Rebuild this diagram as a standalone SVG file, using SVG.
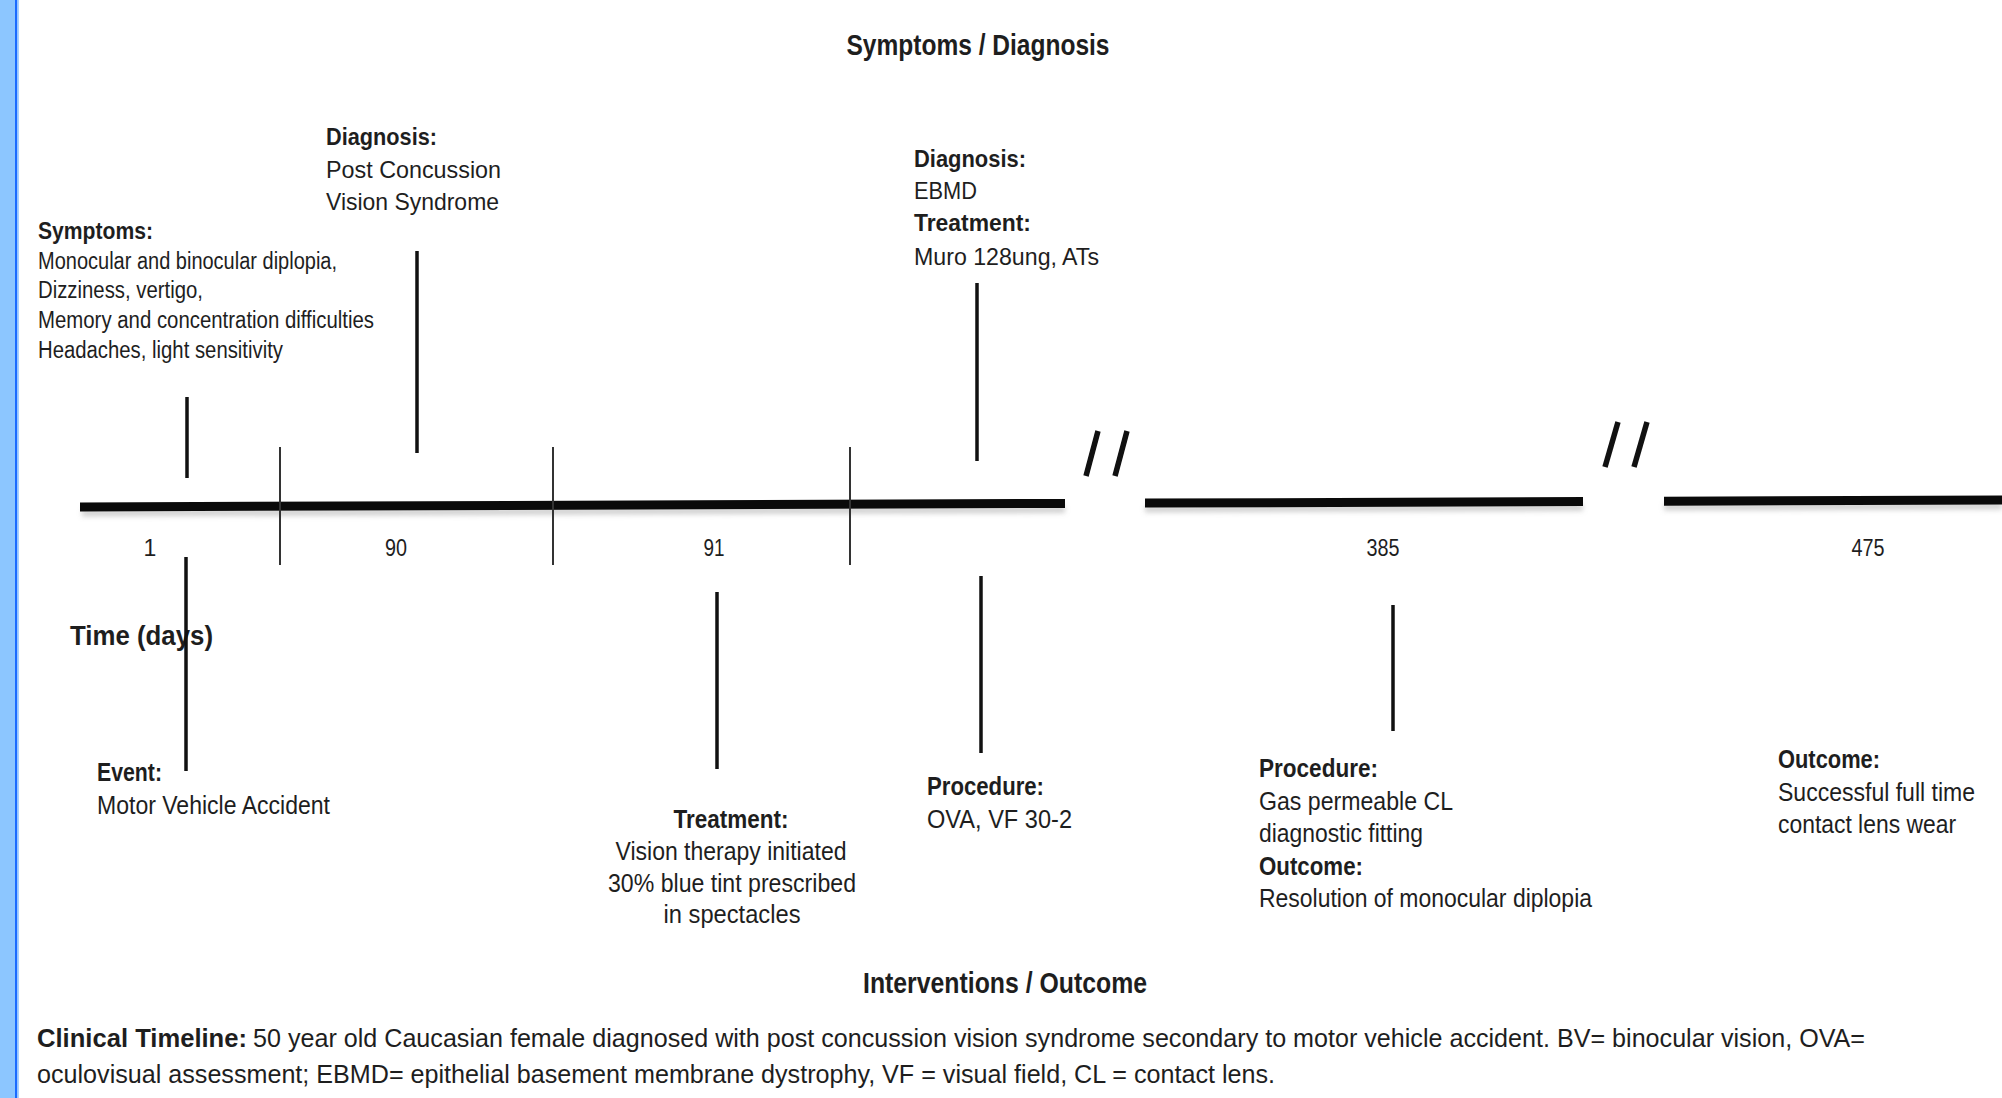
<svg xmlns="http://www.w3.org/2000/svg" width="2002" height="1098" viewBox="0 0 2002 1098">
<style>
  text { font-family: "Liberation Sans", Arial, sans-serif; fill: #1e1e1e; }
  .b { font-weight: bold; }
  .s22 { font-size: 23px; }
  .s23 { font-size: 24px; }
  .s25 { font-size: 26px; }
  .mid { text-anchor: middle; }
  .axis { stroke: #0a0a0a; stroke-width: 9; fill: none; }
  .shadow { stroke: #9a9a9a; stroke-width: 7; fill: none; opacity: 0.45; }
  .tick { stroke: #333; stroke-width: 2; }
  .conn { stroke: #111; stroke-width: 3.5; }
  .brk { stroke: #111; stroke-width: 5.5; }
</style>
<defs>
  <filter id="blur" x="-5%" y="-200%" width="110%" height="500%">
    <feGaussianBlur stdDeviation="2.5"/>
  </filter>
</defs>
<rect x="0" y="0" width="2002" height="1098" fill="#ffffff"/>
<g id="left-band">
  <rect x="0" y="0" width="15" height="1098" fill="#8cc6ff"/>
  <rect x="15" y="0" width="2.5" height="1098" fill="#1a6bff"/>
  <rect x="17.5" y="0" width="1.5" height="1098" fill="#a8d4ff"/>
</g>

<g id="title-top">
  <text class="b mid" x="978" y="55" font-size="30" textLength="263" lengthAdjust="spacingAndGlyphs">Symptoms / Diagnosis</text>
</g>

<g id="timeline-axis">
  <g filter="url(#blur)">
    <line class="shadow" x1="82" y1="513" x2="1065" y2="509.5"/>
    <line class="shadow" x1="1145" y1="509" x2="1583" y2="507.5"/>
    <line class="shadow" x1="1664" y1="507" x2="2002" y2="506"/>
  </g>
  <line class="axis" x1="80" y1="507" x2="1065" y2="503.4"/>
  <line class="axis" x1="1145" y1="503.1" x2="1583" y2="501.5"/>
  <line class="axis" x1="1664" y1="501.2" x2="2002" y2="500"/>
  <line class="tick" x1="280" y1="447" x2="280" y2="565"/>
  <line class="tick" x1="553" y1="447" x2="553" y2="565"/>
  <line class="tick" x1="850" y1="447" x2="850" y2="565"/>
  <line class="brk" x1="1098" y1="431" x2="1086" y2="476"/>
  <line class="brk" x1="1127" y1="431" x2="1115" y2="476"/>
  <line class="brk" x1="1618" y1="422" x2="1605" y2="467"/>
  <line class="brk" x1="1647" y1="422" x2="1634" y2="467"/>
  <text class="s22 mid" x="150" y="556">1</text>
  <text class="s22 mid" x="396" y="556" textLength="22" lengthAdjust="spacingAndGlyphs">90</text>
  <text class="s22 mid" x="714" y="556" textLength="21" lengthAdjust="spacingAndGlyphs">91</text>
  <text class="s22 mid" x="1383" y="556" textLength="33" lengthAdjust="spacingAndGlyphs">385</text>
  <text class="s22 mid" x="1868" y="556" textLength="33" lengthAdjust="spacingAndGlyphs">475</text>
  <text class="b" x="70" y="645" font-size="28" textLength="143" lengthAdjust="spacingAndGlyphs">Time  (days)</text>
</g>

<g id="connectors">
  <line class="conn" x1="187" y1="397" x2="187" y2="478"/>
  <line class="conn" x1="186" y1="557" x2="186" y2="771"/>
  <line class="conn" x1="417" y1="251" x2="417" y2="453"/>
  <line class="conn" x1="977" y1="283" x2="977" y2="461"/>
  <line class="conn" x1="717" y1="592" x2="717" y2="769"/>
  <line class="conn" x1="981" y1="576" x2="981" y2="753"/>
  <line class="conn" x1="1393" y1="605" x2="1393" y2="731"/>
</g>

<g id="node-symptoms">
  <text class="s22 b" x="38" y="239" textLength="115" lengthAdjust="spacingAndGlyphs">Symptoms:</text>
  <text class="s22" x="38" y="269" textLength="299" lengthAdjust="spacingAndGlyphs">Monocular and binocular diplopia,</text>
  <text class="s22" x="38" y="298" textLength="165" lengthAdjust="spacingAndGlyphs">Dizziness, vertigo,</text>
  <text class="s22" x="38" y="328" textLength="336" lengthAdjust="spacingAndGlyphs">Memory and concentration difficulties</text>
  <text class="s22" x="38" y="358" textLength="245" lengthAdjust="spacingAndGlyphs">Headaches, light  sensitivity</text>
</g>

<g id="node-diagnosis-pcvs">
  <text class="s23 b" x="326" y="145" textLength="111" lengthAdjust="spacingAndGlyphs">Diagnosis:</text>
  <text class="s23" x="326" y="178" textLength="175" lengthAdjust="spacingAndGlyphs">Post Concussion</text>
  <text class="s23" x="326" y="210" textLength="173" lengthAdjust="spacingAndGlyphs">Vision Syndrome</text>
</g>

<g id="node-diagnosis-ebmd">
  <text class="s23 b" x="914" y="167" textLength="112" lengthAdjust="spacingAndGlyphs">Diagnosis:</text>
  <text class="s23" x="914" y="199" textLength="63" lengthAdjust="spacingAndGlyphs">EBMD</text>
  <text class="s23 b" x="914" y="231" textLength="117" lengthAdjust="spacingAndGlyphs">Treatment:</text>
  <text class="s23" x="914" y="265" textLength="185" lengthAdjust="spacingAndGlyphs">Muro  128ung, ATs</text>
</g>

<g id="node-event">
  <text class="s25 b" x="97" y="781" textLength="65" lengthAdjust="spacingAndGlyphs">Event:</text>
  <text class="s25" x="97" y="814" textLength="233" lengthAdjust="spacingAndGlyphs">Motor Vehicle Accident</text>
</g>

<g id="node-treatment">
  <text class="s25 b mid" x="731" y="828" textLength="115" lengthAdjust="spacingAndGlyphs">Treatment:</text>
  <text class="s25 mid" x="731" y="860" textLength="231" lengthAdjust="spacingAndGlyphs">Vision therapy initiated</text>
  <text class="s25 mid" x="732" y="892" textLength="248" lengthAdjust="spacingAndGlyphs">30% blue tint prescribed</text>
  <text class="s25 mid" x="732" y="923" textLength="137" lengthAdjust="spacingAndGlyphs">in spectacles</text>
</g>

<g id="node-procedure-ova">
  <text class="s25 b" x="927" y="795" textLength="117" lengthAdjust="spacingAndGlyphs">Procedure:</text>
  <text class="s25" x="927" y="828" textLength="145" lengthAdjust="spacingAndGlyphs">OVA,  VF  30-2</text>
</g>

<g id="node-procedure-gp">
  <text class="s25 b" x="1259" y="777" textLength="119" lengthAdjust="spacingAndGlyphs">Procedure:</text>
  <text class="s25" x="1259" y="810" textLength="194" lengthAdjust="spacingAndGlyphs">Gas permeable CL</text>
  <text class="s25" x="1259" y="842" textLength="164" lengthAdjust="spacingAndGlyphs">diagnostic fitting</text>
  <text class="s25 b" x="1259" y="875" textLength="104" lengthAdjust="spacingAndGlyphs">Outcome:</text>
  <text class="s25" x="1259" y="907" textLength="333" lengthAdjust="spacingAndGlyphs">Resolution of monocular diplopia</text>
</g>

<g id="node-outcome">
  <text class="s25 b" x="1778" y="768" textLength="102" lengthAdjust="spacingAndGlyphs">Outcome:</text>
  <text class="s25" x="1778" y="801" textLength="197" lengthAdjust="spacingAndGlyphs">Successful full time</text>
  <text class="s25" x="1778" y="833" textLength="178" lengthAdjust="spacingAndGlyphs">contact lens wear</text>
</g>

<g id="title-bottom">
  <text class="b mid" x="1005" y="993" font-size="29" textLength="284" lengthAdjust="spacingAndGlyphs">Interventions / Outcome</text>
</g>

<g id="caption">
  <text class="s25 b" x="37" y="1047" textLength="210" lengthAdjust="spacingAndGlyphs">Clinical Timeline:</text>
  <text class="s25" x="253" y="1047" textLength="1612" lengthAdjust="spacingAndGlyphs">50 year old Caucasian female  diagnosed with post concussion vision  syndrome secondary to motor vehicle  accident. BV= binocular vision, OVA=</text>
  <text class="s25" x="37" y="1083" textLength="1238" lengthAdjust="spacingAndGlyphs">oculovisual  assessment; EBMD= epithelial basement membrane dystrophy, VF = visual  field, CL = contact lens.</text>
</g>
</svg>
